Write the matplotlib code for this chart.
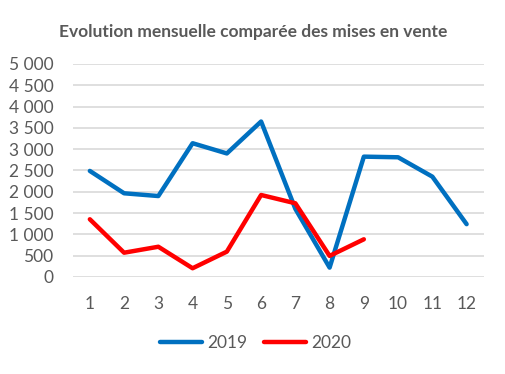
import numpy as np
import matplotlib
matplotlib.use("Agg")
import matplotlib.pyplot as plt
from matplotlib.ticker import FuncFormatter

# données
mois = list(range(1, 13))
ventes_2019 = [2490, 1965, 1900, 3140, 2900, 3650, 1600, 220, 2825, 2810, 2355, 1240]
ventes_2020 = [1355, 570, 710, 205, 595, 1925, 1730, 495, 885]

bleu = "#0070C0"
rouge = "#FF0000"
gris = "#595959"

plt.rcParams['font.family'] = ['Lato', 'DejaVu Sans']

fig = plt.figure(figsize=(5.06, 3.74), dpi=100)
ax = fig.add_axes([0.1437, 0.2594, 0.8123, 0.5695])

ax.plot(mois, ventes_2019, color=bleu, linewidth=3.2, label="2019", solid_capstyle="round", solid_joinstyle="round")
ax.plot(mois[:len(ventes_2020)], ventes_2020, color=rouge, linewidth=3.2, label="2020", solid_capstyle="round", solid_joinstyle="round")

ax.set_xlim(0.5, 12.5)
ax.set_ylim(0, 5000)
ax.set_yticks(np.arange(0, 5001, 500))
ax.set_xticks(mois)
ax.yaxis.set_major_formatter(FuncFormatter(lambda v, p: f"{int(v):,}".replace(",", " ")))

ax.grid(axis="y", color="#D9D9D9", linewidth=1.2)
ax.set_axisbelow(True)
for s in ax.spines.values():
    s.set_visible(False)
ax.tick_params(length=0, labelsize=12.5, colors=gris)
ax.tick_params(axis="x", pad=14)
ax.tick_params(axis="y", pad=14)

fig.suptitle("Evolution mensuelle comparée des mises en vente", x=0.5, y=0.935,
             fontsize=12.5, fontweight="bold", color=gris)

leg = fig.legend(loc="center", bbox_to_anchor=(0.505, 0.083), ncol=2, frameon=False,
                 fontsize=12.5, handlelength=2.4, handletextpad=0.3, columnspacing=1.0)
for t in leg.get_texts():
    t.set_color(gris)

fig.savefig("out.png", dpi=100)
